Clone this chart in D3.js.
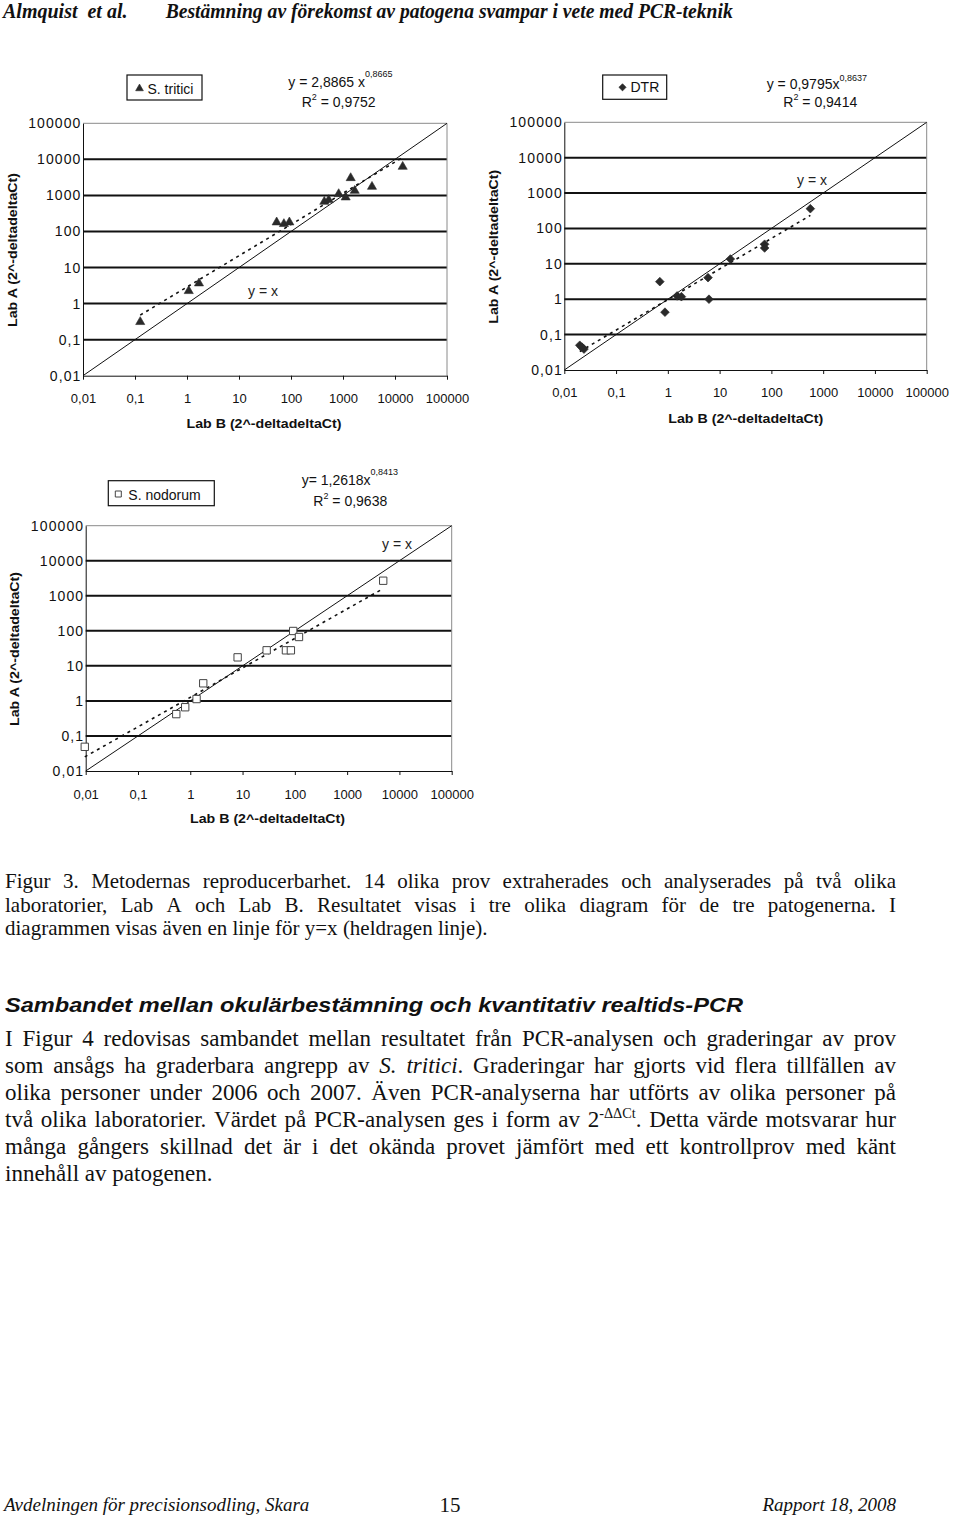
<!DOCTYPE html>
<html><head><meta charset="utf-8">
<script src="https://cdn.jsdelivr.net/npm/d3@7"></script>
<style>body{margin:0;background:#fff} svg{display:block}</style>
</head><body><svg id="pg" width="960" height="1516"></svg>
<script>
// ---------- DATA ----------
const decadeTicks = [0.01, 0.1, 1, 10, 100, 1000, 10000, 100000];
const tickLabels = ["0,01", "0,1", "1", "10", "100", "1000", "10000", "100000"];

const triticiLabB = [0.126, 1.08, 1.7, 53, 73, 93, 437, 531, 826, 1125, 1405, 1680, 3610, 14060];
const triticiLabA = [0.31, 2.24, 3.66, 180, 162, 180, 670, 747, 1096, 887, 3040, 1350, 1745, 6270];

const dtrLabB = [0.0199, 0.022, 0.024, 0.70, 0.88, 1.51, 1.83, 5.97, 6.23, 16.1, 74, 74, 566];
const dtrLabA = [0.050, 0.044, 0.039, 3.14, 0.43, 1.24, 1.18, 4.07, 1.0, 13.7, 35.8, 28.1, 362];

const nodorumLabB = [0.0096, 0.54, 0.80, 1.32, 1.77, 8.05, 28.9, 67.6, 84, 93, 120, 4900];
const nodorumLabA = [0.049, 0.42, 0.66, 1.13, 3.18, 17.5, 27.8, 27.8, 27.8, 99, 66.7, 2690];

const seriesNames = ["S. tritici", "DTR", "S. nodorum"];
const fitCoef = [2.8865, 0.9795, 1.2618];
const fitExp = [0.8665, 0.8637, 0.8413];
const eqPrefix = ["y = 2,8865 x", "y = 0,9795x", "y= 1,2618x"];
const eqExpText = ["0,8665", "0,8637", "0,8413"];
const r2Text = ["0,9752", "0,9414", "0,9638"];
const xTitle = "Lab B (2^-deltadeltaCt)";
const yTitle = "Lab A (2^-deltadeltaCt)";

const headerLeft = "Almquist  et al.";
const headerRight = "Bestämning av förekomst av patogena svampar i vete med PCR-teknik";
const captionLines = [
  "Figur 3. Metodernas reproducerbarhet. 14 olika prov extraherades och analyserades på två olika",
  "laboratorier, Lab A och Lab B. Resultatet visas i tre olika diagram för de tre patogenerna. I",
  "diagrammen visas även en linje för y=x (heldragen linje)."
];
const headingText = "Sambandet mellan okulärbestämning och kvantitativ realtids-PCR";
const paraLines = [
  "I Figur 4 redovisas sambandet mellan resultatet från PCR-analysen och graderingar av prov",
  "som ansågs ha graderbara angrepp av _S._ _tritici_. Graderingar har gjorts vid flera tillfällen av",
  "olika personer under 2006 och 2007. Även PCR-analyserna har utförts av olika personer på",
  "två olika laboratorier. Värdet på PCR-analysen ges i form av 2^-ΔΔCt^. Detta värde motsvarar hur",
  "många gångers skillnad det är i det okända provet jämfört med ett kontrollprov med känt",
  "innehåll av patogenen."
];
const footerLeft = "Avdelningen för precisionsodling, Skara";
const footerMid = "15";
const footerRight = "Rapport 18, 2008";

// ---------- LAYOUT ----------
const svg = d3.select("#pg");
const SANS = "Arial, 'Liberation Sans', sans-serif";
const SERIF = "'Times New Roman', 'Liberation Serif', serif";

const charts = [
  {xs: triticiLabB, ys: triticiLabA, marker: "triangle",
   x0: 83, x1: 447, yt: 123.3, yb: 375.7, xpad: 14.5,
   leg: {x: 127, y: 75, w: 75, h: 25, mx: 139.5, my: 88.5, tx: 147.5, ty: 94},
   eq: {x: 288.3, y: 86.7, supDy: -10, rx: 301.7, ry: 106.7},
   yx: {x: 263, y: 291},
   xt: {x: 264, y: 427.7}, yt2: {x: 17, y: 250}},
  {xs: dtrLabB, ys: dtrLabA, marker: "diamond",
   x0: 564.3, x1: 926.7, yt: 122.3, yb: 370, xpad: 13.5,
   leg: {x: 602.7, y: 75, w: 64, h: 24.3, mx: 622.5, my: 87.3, tx: 630.5, ty: 92},
   eq: {x: 766.7, y: 89.3, supDy: -8, rx: 783.3, ry: 106.7},
   yx: {x: 812, y: 180},
   xt: {x: 745.8, y: 422.7}, yt2: {x: 498, y: 246.7}},
  {xs: nodorumLabB, ys: nodorumLabA, marker: "square",
   x0: 85.7, x1: 451.7, yt: 525.7, yb: 771, xpad: 14.3,
   leg: {x: 108.3, y: 480.7, w: 106, h: 25, mx: 118.3, my: 494, tx: 128.3, ty: 499.5},
   eq: {x: 301.7, y: 485, supDy: -10, rx: 313.3, ry: 506},
   yx: {x: 397, y: 544},
   xt: {x: 267.5, y: 822.7}, yt2: {x: 19, y: 649}}
];

function markerPath(type, big) {
  if (type === "triangle") return d3.symbol(d3.symbolTriangle, big ? 36 : 26)();
  if (type === "diamond") return d3.symbol(d3.symbolSquare, big ? 38 : 26)();
  return d3.symbol(d3.symbolSquare, big ? 54 : 36)();
}
function styleMarker(sel, type) {
  if (type === "square") sel.attr("fill", "#fff").attr("stroke", "#444").attr("stroke-width", 1);
  else sel.attr("fill", "#2a2a2a").attr("stroke", "#2a2a2a").attr("stroke-width", 0.6);
}

charts.forEach((L, i) => {
  const g = svg.append("g");
  const x = d3.scaleLog().domain([0.01, 100000]).range([L.x0, L.x1]);
  const y = d3.scaleLog().domain([0.01, 100000]).range([L.yb, L.yt]);

  // gridlines
  g.append("g").selectAll("line").data(decadeTicks.slice(1, -1)).join("line")
    .attr("x1", L.x0).attr("x2", L.x1).attr("y1", d => y(d)).attr("y2", d => y(d))
    .attr("stroke", "#111").attr("stroke-width", 2);
  // plot border top/right
  g.append("path").attr("d", `M${L.x0},${y(100000)}H${L.x1}V${y(0.01)}`)
    .attr("fill", "none").attr("stroke", "#8a8a8a").attr("stroke-width", 1);

  // axes
  const xa = g.append("g").attr("transform", `translate(0,${y(0.01)})`)
    .call(d3.axisBottom(x).tickValues(decadeTicks).tickFormat((d, k) => tickLabels[k])
      .tickSize(4).tickSizeOuter(0).tickPadding(L.xpad));
  xa.attr("font-family", SANS).attr("font-size", 13);
  xa.selectAll("text").attr("fill", "#111");
  xa.selectAll("line,path").attr("stroke", "#111");

  const ya = g.append("g").attr("transform", `translate(${L.x0},0)`)
    .call(d3.axisLeft(y).tickValues(decadeTicks).tickFormat((d, k) => tickLabels[k])
      .tickSize(0).tickSizeOuter(0).tickPadding(1.5));
  ya.attr("font-family", SANS).attr("font-size", 14);
  ya.selectAll("text").attr("fill", "#111").attr("letter-spacing", 1.1);
  ya.selectAll("line,path").attr("stroke", "#111");

  // y = x line
  g.append("path").datum([0.01, 100000])
    .attr("d", d3.line().x(d => x(d)).y(d => y(d)))
    .attr("stroke", "#111").attr("stroke-width", 1).attr("fill", "none");

  // power trendline over data range
  const ext = d3.extent(L.xs);
  const fit = v => fitCoef[i] * Math.pow(v, fitExp[i]);
  g.append("path").datum(ext)
    .attr("d", d3.line().x(d => x(d)).y(d => y(fit(d))))
    .attr("stroke", "#111").attr("stroke-width", 1.6).attr("stroke-dasharray", "3,4")
    .attr("fill", "none");

  // points
  const pts = g.append("g").selectAll("path").data(L.xs.map((v, k) => [v, L.ys[k]])).join("path")
    .attr("d", markerPath(L.marker, true))
    .attr("transform", d => `translate(${x(d[0])},${y(d[1])})` + (L.marker === "diamond" ? " rotate(45)" : ""));
  styleMarker(pts, L.marker);

  // "y = x" label
  g.append("text").attr("x", L.yx.x).attr("y", L.yx.y + 5).attr("text-anchor", "middle")
    .attr("font-family", SANS).attr("font-size", 14).attr("fill", "#222").text("y = x");

  // legend
  g.append("rect").attr("x", L.leg.x).attr("y", L.leg.y).attr("width", L.leg.w).attr("height", L.leg.h)
    .attr("fill", "#fff").attr("stroke", "#111").attr("stroke-width", 1.2);
  const lm = g.append("path").attr("d", markerPath(L.marker, false))
    .attr("transform", `translate(${L.leg.mx},${L.leg.my})` + (L.marker === "diamond" ? " rotate(45)" : ""));
  styleMarker(lm, L.marker);
  g.append("text").attr("x", L.leg.tx).attr("y", L.leg.ty).attr("font-family", SANS)
    .attr("font-size", 14).attr("fill", "#111").text(seriesNames[i]);

  // equation
  const eq = g.append("text").attr("x", L.eq.x).attr("y", L.eq.y).attr("font-family", SANS)
    .attr("font-size", 14).attr("fill", "#111");
  eq.append("tspan").text(eqPrefix[i]);
  eq.append("tspan").attr("font-size", 9).attr("dy", L.eq.supDy).text(eqExpText[i]);
  const r2 = g.append("text").attr("x", L.eq.rx).attr("y", L.eq.ry).attr("font-family", SANS)
    .attr("font-size", 14).attr("fill", "#111");
  r2.append("tspan").text("R");
  r2.append("tspan").attr("font-size", 9).attr("dy", -7).text("2");
  r2.append("tspan").attr("dy", 7).text(" = " + r2Text[i]);

  // axis titles
  g.append("text").attr("x", L.xt.x).attr("y", L.xt.y).attr("text-anchor", "middle")
    .attr("font-family", SANS).attr("font-weight", "bold").attr("font-size", 13.5)
    .attr("textLength", 155).attr("lengthAdjust", "spacingAndGlyphs").attr("fill", "#111").text(xTitle);
  g.append("text").attr("transform", `translate(${L.yt2.x},${L.yt2.y}) rotate(-90)`)
    .attr("text-anchor", "middle").attr("font-family", SANS).attr("font-weight", "bold")
    .attr("font-size", 13.5).attr("textLength", 154).attr("lengthAdjust", "spacingAndGlyphs")
    .attr("fill", "#111").text(yTitle);
});

// ---------- PAGE TEXT ----------
svg.append("text").attr("x", 3).attr("y", 17.5).attr("font-family", SERIF).attr("font-weight", "bold")
  .attr("font-style", "italic").attr("font-size", 20).attr("fill", "#111")
  .attr("xml:space", "preserve").text(headerLeft);
svg.append("text").attr("x", 165.7).attr("y", 17.5).attr("font-family", SERIF).attr("font-weight", "bold")
  .attr("font-style", "italic").attr("font-size", 20).attr("fill", "#111")
  .attr("textLength", 567).attr("lengthAdjust", "spacingAndGlyphs").text(headerRight);

function parseWord(w) {
  return w.split(/(_[^_]*_|\^[^^]*\^)/).filter(s => s).map(s => {
    if (s[0] === "_") return {t: s.slice(1, -1), it: true};
    if (s[0] === "^") return {t: s.slice(1, -1), sup: true};
    return {t: s};
  });
}
function textBlock(lines, o) {
  lines.forEach((line, li) => {
    const yy = o.y0 + li * o.lh;
    const words = line.split(" ");
    const nodes = words.map(w => {
      const t = svg.append("text").attr("y", yy).attr("font-family", o.family)
        .attr("font-size", o.size).attr("fill", "#111");
      let shifted = false;
      parseWord(w).forEach(r => {
        const ts = t.append("tspan").text(r.t);
        if (r.it) ts.attr("font-style", "italic");
        if (r.sup) { ts.attr("font-size", o.size * 0.62).attr("dy", -o.size * 0.4); shifted = true; }
        else if (shifted) { ts.attr("dy", o.size * 0.4); shifted = false; }
      });
      return t;
    });
    const widths = nodes.map(n => n.node().getComputedTextLength());
    const sum = d3.sum(widths);
    const last = li === lines.length - 1;
    const gap = (last || words.length < 2) ? o.size * 0.25 : (o.x1 - o.x0 - sum) / (words.length - 1);
    let cx = o.x0;
    nodes.forEach((n, k) => { n.attr("x", cx); cx += widths[k] + gap; });
  });
}

textBlock(captionLines, {x0: 5, x1: 896, y0: 888.3, lh: 23.4, size: 21, family: SERIF});

svg.append("text").attr("x", 5).attr("y", 1011.7).attr("font-family", SANS).attr("font-weight", "bold")
  .attr("font-style", "italic").attr("font-size", 19.5).attr("fill", "#111")
  .attr("textLength", 738).attr("lengthAdjust", "spacingAndGlyphs").text(headingText);

textBlock(paraLines, {x0: 5, x1: 896, y0: 1045.7, lh: 27, size: 23, family: SERIF});

svg.append("text").attr("x", 4).attr("y", 1511).attr("font-family", SERIF).attr("font-style", "italic")
  .attr("font-size", 19).attr("fill", "#111").text(footerLeft);
svg.append("text").attr("x", 450).attr("y", 1512).attr("text-anchor", "middle").attr("font-family", SERIF)
  .attr("font-size", 21).attr("fill", "#111").text(footerMid);
svg.append("text").attr("x", 896).attr("y", 1511).attr("text-anchor", "end").attr("font-family", SERIF)
  .attr("font-style", "italic").attr("font-size", 19).attr("fill", "#111").text(footerRight);
</script></body></html>
